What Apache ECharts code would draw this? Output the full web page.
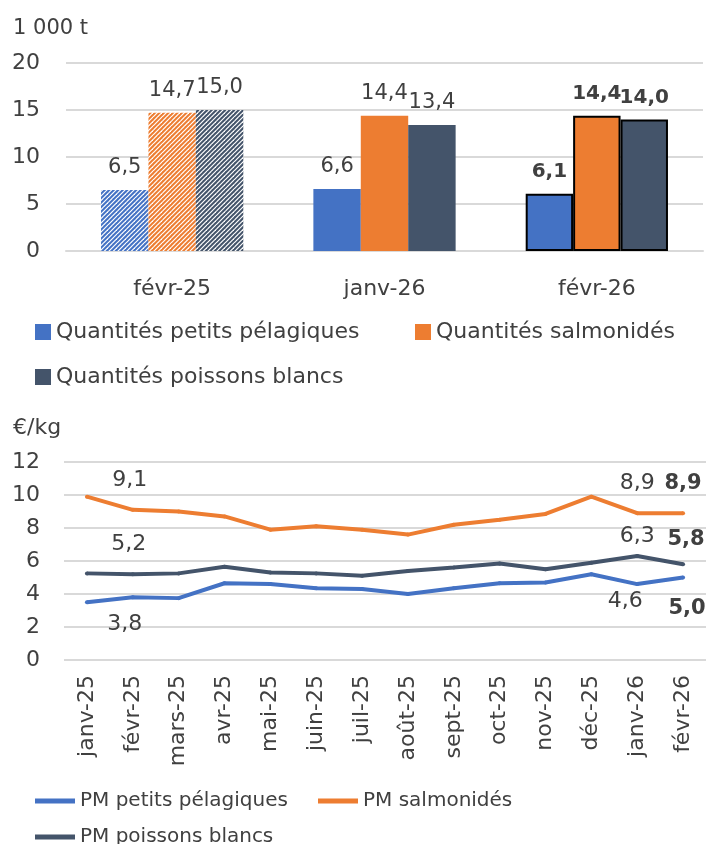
<!DOCTYPE html>
<html><head><meta charset="utf-8">
<script src="https://cdn.jsdelivr.net/npm/echarts@6/dist/echarts.min.js"></script>
<style>html,body{margin:0;padding:0;background:#fff}#c{width:706px;height:844px}</style>
</head><body><div id="c"></div>
<script>
// ---- data ----
const barCategories = ['févr-25', 'janv-26', 'févr-26'];
const qtyPetitsPelagiques = [6.5, 6.6, 6.1];
const qtySalmonides = [14.7, 14.4, 14.4];
const qtyPoissonsBlancs = [15.0, 13.4, 14.0];
const barTicks = [0, 5, 10, 15, 20];

const months = ['janv-25','févr-25','mars-25','avr-25','mai-25','juin-25','juil-25','août-25','sept-25','oct-25','nov-25','déc-25','janv-26','févr-26'];
const pmPetitsPelagiques = [3.5, 3.8, 3.75, 4.65, 4.6, 4.35, 4.3, 4.0, 4.35, 4.65, 4.7, 5.2, 4.6, 5.0];
const pmSalmonides = [9.9, 9.1, 9.0, 8.7, 7.9, 8.1, 7.9, 7.6, 8.2, 8.5, 8.85, 9.9, 8.9, 8.9];
const pmPoissonsBlancs = [5.25, 5.2, 5.25, 5.65, 5.3, 5.25, 5.1, 5.4, 5.6, 5.85, 5.5, 5.9, 6.3, 5.8];
const lineTicks = [0, 2, 4, 6, 8, 10, 12];

// ---- style ----
const FONT = 'DejaVu Sans';
const FS = 22;
const TXT = '#404040';
const C_BLUE = '#4472C4', C_ORANGE = '#ED7D31', C_NAVY = '#44546A';
const GRID = '#d9d9d9';

function hatch(color) {
  const cv = document.createElement('canvas');
  cv.width = 9; cv.height = 9;
  const g = cv.getContext('2d');
  g.fillStyle = color; g.fillRect(0, 0, 9, 9);
  g.strokeStyle = '#ffffff';
  g.lineWidth = 1.2;
  for (let k = -9; k <= 18; k += 4.5) {
    g.beginPath(); g.moveTo(k - 9, 18); g.lineTo(k + 9, 0); g.stroke();
  }
  return { image: cv, repeat: 'repeat' };
}
const fmt = v => Number(v).toFixed(1).replace('.', ',');

function barData(values, color) {
  return values.map((v, i) => {
    const d = { value: v };
    if (i === 0) d.itemStyle = { color: hatch(color) };
    if (i === 2) {
      d.itemStyle = { color: color, borderColor: '#000', borderWidth: 2 };
      d.label = { fontWeight: 'bold', fontSize: 20 };
    }
    return d;
  });
}

function lineData(values, labels) {
  return values.map((v, i) => {
    const d = { value: v };
    if (labels[i]) d.label = Object.assign({ show: true }, labels[i]);
    return d;
  });
}

const txt = (extra) => Object.assign({ color: TXT, fontSize: FS, fontFamily: FONT }, extra || {});
const barLabel = txt({ show: true, position: 'top', distance: 12, fontSize: 21, formatter: p => fmt(p.value) });
const lineLabelBase = txt({ show: false, formatter: p => fmt(p.value) });
const legTop = { icon: 'rect', itemWidth: 16, itemHeight: 16, itemGap: 4, textStyle: txt() };
const legBot = { icon: 'rect', itemWidth: 40, itemHeight: 5, textStyle: txt({ fontSize: 20 }) };

const chart = echarts.init(document.getElementById('c'), null, { renderer: 'canvas' });
chart.setOption({
  animation: false,
  textStyle: { fontFamily: FONT },
  title: [
    { text: '1 000 t', left: 8, top: 13, textStyle: txt({ fontSize: 21, fontWeight: 'normal' }) },
    { text: '€/kg', left: 8, top: 412, textStyle: txt({ fontWeight: 'normal' }) }
  ],
  grid: [
    { left: 66, right: 3, top: 63, height: 188 },
    { left: 64, right: 0, top: 462, height: 198 }
  ],
  legend: [
    Object.assign({ data: ['Quantités petits pélagiques'], left: 30, top: 316 }, legTop),
    Object.assign({ data: ['Quantités salmonidés'], left: 410, top: 316 }, legTop),
    Object.assign({ data: ['Quantités poissons blancs'], left: 30, top: 361 }, legTop),
    Object.assign({ data: ['PM petits pélagiques'], left: 30, top: 786 }, legBot),
    Object.assign({ data: ['PM salmonidés'], left: 313, top: 786 }, legBot),
    Object.assign({ data: ['PM poissons blancs'], left: 30, top: 822 }, legBot)
  ],
  xAxis: [
    { type: 'category', gridIndex: 0, data: barCategories,
      axisLine: { lineStyle: { color: GRID, width: 2 } }, axisTick: { show: false },
      axisLabel: txt({ margin: 27 }) },
    { type: 'category', gridIndex: 1, data: months, boundaryGap: true,
      axisLine: { show: false }, axisTick: { show: false },
      axisLabel: txt({ rotate: 90, margin: 15, interval: 0 }) }
  ],
  yAxis: [
    { type: 'value', gridIndex: 0, min: barTicks[0], max: barTicks[barTicks.length - 1], interval: 5,
      axisLine: { show: false }, axisTick: { show: false },
      splitLine: { lineStyle: { color: GRID, width: 2 } },
      axisLabel: txt({ margin: 26 }) },
    { type: 'value', gridIndex: 1, min: lineTicks[0], max: lineTicks[lineTicks.length - 1], interval: 2,
      axisLine: { show: false }, axisTick: { show: false },
      splitLine: { lineStyle: { color: GRID, width: 2 } },
      axisLabel: txt({ margin: 24 }) }
  ],
  series: [
    { name: 'Quantités petits pélagiques', type: 'bar', xAxisIndex: 0, yAxisIndex: 0, barGap: '0%', barCategoryGap: '33%',
      itemStyle: { color: C_BLUE }, label: barLabel, data: barData(qtyPetitsPelagiques, C_BLUE) },
    { name: 'Quantités salmonidés', type: 'bar', xAxisIndex: 0, yAxisIndex: 0, barGap: '0%', barCategoryGap: '33%',
      itemStyle: { color: C_ORANGE }, label: barLabel, data: barData(qtySalmonides, C_ORANGE) },
    { name: 'Quantités poissons blancs', type: 'bar', xAxisIndex: 0, yAxisIndex: 0, barGap: '0%', barCategoryGap: '33%',
      itemStyle: { color: C_NAVY }, label: barLabel, data: barData(qtyPoissonsBlancs, C_NAVY) },
    { name: 'PM petits pélagiques', type: 'line', xAxisIndex: 1, yAxisIndex: 1, symbol: 'circle', symbolSize: 4, showSymbol: true,
      lineStyle: { color: C_BLUE, width: 4 }, itemStyle: { color: C_BLUE }, label: lineLabelBase,
      data: lineData(pmPetitsPelagiques, { 1: { position: 'bottom', distance: 14, offset: [-8, 0] }, 12: { position: 'bottom', distance: 4, offset: [-12, 0] }, 13: { position: 'bottom', distance: 19, fontWeight: 'bold', fontSize: 21, offset: [4, 0] } }) },
    { name: 'PM salmonidés', type: 'line', xAxisIndex: 1, yAxisIndex: 1, symbol: 'circle', symbolSize: 4, showSymbol: true,
      lineStyle: { color: C_ORANGE, width: 4 }, itemStyle: { color: C_ORANGE }, label: lineLabelBase,
      data: lineData(pmSalmonides, { 1: { position: 'top', distance: 17, offset: [-3, 0] }, 12: { position: 'top', distance: 17 }, 13: { position: 'top', distance: 17, fontWeight: 'bold', fontSize: 21 } }) },
    { name: 'PM poissons blancs', type: 'line', xAxisIndex: 1, yAxisIndex: 1, symbol: 'circle', symbolSize: 4, showSymbol: true,
      lineStyle: { color: C_NAVY, width: 4 }, itemStyle: { color: C_NAVY }, label: lineLabelBase,
      data: lineData(pmPoissonsBlancs, { 1: { position: 'top', distance: 17, offset: [-4, 0] }, 12: { position: 'top', distance: 7 }, 13: { position: 'top', distance: 12, fontWeight: 'bold', fontSize: 21, offset: [3, 0] } }) }
  ]
});
</script>
</body></html>
